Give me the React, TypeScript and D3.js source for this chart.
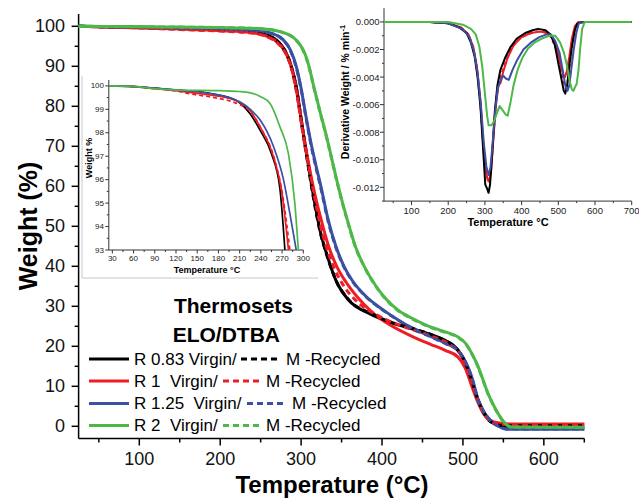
import React from "react";
import * as d3 from "d3";

type P = [number, number];

// ---------- colours ----------
const BLACK = "#000000";
const RED = "#ee1c25";
const BLUE = "#3b4fa3";
const GREEN = "#4cb848";

// ---------- main TGA curves (Temperature °C, Weight %) ----------
const mainBlack: P[] = [[25,100],[100,99.7],[150,99.5],[200,99.2],[240,98.7],[258,97.8],[270,96.5],[280,94],[288,90],[294,85],[300,77],[306,69],[312,61.5],[318,54.5],[324,48.5],[331,43.5],[343,36.5],[359,31.5],[384,28.2],[410,26],[437,24.4],[460,23],[478,21.5],[488,20.3],[496,18.5],[503,16],[511,11.5],[519,6.5],[526,3.5],[532,1.6],[540,0.5],[552,-0.1],[650,-0.2]];
const mainBlackRec: P[] = [[25,100],[100,99.7],[150,99.5],[200,99.2],[240,98.7],[258,97.8],[270,96.4],[280,93.8],[288,89.8],[294,84.6],[300,76.6],[306,68.6],[312,61],[318,54],[324,48.2],[331,43.3],[343,36.5],[359,31.6],[384,28.4],[410,26.1],[437,24.5],[460,23],[478,21.4],[488,20.2],[496,18.4],[503,15.8],[511,11.3],[519,6.3],[526,3.3],[532,1.5],[540,0.6],[552,0.15],[650,0.15]];
const mainRed: P[] = [[25,100],[100,99.6],[150,99.3],[200,98.9],[240,98.4],[258,97.5],[272,95.8],[282,93],[289,89],[296,82],[302,74],[309,66],[317,58],[325,51.5],[334,45],[344,40],[355,36.2],[370,32.2],[388,28.5],[410,25.3],[437,22.5],[460,20.5],[478,19],[494,17.3],[503,14.5],[511,10],[519,5.8],[526,3],[533,1.6],[545,0.8],[560,0.55],[650,0.55]];
const mainRedRec: P[] = [[25,100],[100,99.6],[150,99.2],[200,98.8],[240,98.3],[258,97.4],[272,95.6],[282,92.8],[289,88.8],[296,81.5],[302,73.5],[309,65.5],[316,58],[323,51],[331,45],[341,39.5],[353,35],[370,31],[392,28],[415,25.8],[440,24],[465,22.2],[485,20.3],[497,18],[505,14.5],[512,10.5],[520,5.8],[527,2.8],[534,1.2],[545,0.5],[650,0.4]];
const mainBlue: P[] = [[25,100],[100,99.8],[150,99.6],[200,99.4],[240,99],[262,98.3],[277,96.8],[287,94],[294,90],[300,84.5],[306,77.5],[312,71],[318,65.5],[325,59.5],[333,52],[343,45],[353,40],[363,36.5],[380,32.5],[400,29.3],[420,26.6],[437,24.6],[460,22.5],[478,20.8],[494,19],[503,16.2],[511,12.3],[519,6.5],[526,3.6],[531,2.2],[538,0.8],[544,0],[555,-0.75],[650,-0.75]];
const mainBlueRec: P[] = [[25,100],[100,99.8],[150,99.6],[200,99.4],[240,99],[262,98.3],[277,96.7],[287,93.8],[294,89.7],[300,84.2],[306,77.2],[312,70.6],[318,65],[325,59],[333,51.6],[343,44.7],[353,39.8],[363,36.4],[380,32.4],[400,29.2],[420,26.5],[437,24.5],[460,22.4],[478,20.7],[494,18.9],[503,16.1],[511,12.2],[519,6.4],[526,3.5],[531,2.1],[538,0.7],[544,0],[555,-0.7],[650,-0.7]];
const mainGreen: P[] = [[25,100],[100,99.9],[150,99.8],[200,99.7],[250,99.4],[275,98.6],[290,97.3],[298,95.6],[305,93],[310,89.8],[315,85.5],[323,79],[331,72.8],[338,66.8],[344,61.6],[350,56.8],[358,51],[367,45],[378,40],[392,35.2],[405,31.8],[420,29],[437,27],[458,25],[478,23.6],[494,22.3],[503,20.8],[511,18.2],[519,14.8],[525,11.5],[531,8.2],[538,5.2],[544,3],[552,0.8],[560,-0.2],[650,-0.25]];
const mainGreenRec: P[] = [[25,100],[100,99.9],[150,99.8],[200,99.7],[250,99.4],[275,98.6],[290,97.2],[298,95.5],[305,92.8],[310,89.6],[315,85.3],[323,78.8],[331,72.6],[338,66.6],[344,61.4],[350,56.6],[358,50.8],[367,44.9],[378,39.9],[392,35.1],[405,31.7],[420,28.9],[437,26.9],[458,24.9],[478,23.5],[494,22.2],[503,20.7],[511,18.1],[519,14.7],[525,11.4],[531,8.1],[538,5.1],[544,2.9],[552,0.7],[560,-0.2],[650,-0.25]];

// ---------- left inset (zoom of early weight loss) ----------
const inBlack: P[] = [[25,100],[60,99.98],[90,99.9],[120,99.82],[150,99.76],[182,99.6],[200,99.45],[210,99.28],[225,98.8],[239,98.1],[255,97.1],[267,95.6],[274,93]];
const inRed: P[] = [[25,100],[60,99.97],[90,99.88],[120,99.8],[140,99.72],[170,99.6],[196,99.46],[210,99.3],[220,99.1],[239,98.25],[258,96.97],[270,95.4],[279,93]];
const inRedRec: P[] = [[25,100],[60,99.97],[90,99.88],[120,99.78],[140,99.66],[170,99.52],[196,99.36],[210,99.2],[222,99.0],[240,98.2],[259,96.9],[271,95.3],[281,93]];
const inBlue: P[] = [[25,100],[60,99.97],[90,99.9],[120,99.83],[150,99.75],[173,99.65],[195,99.5],[210,99.32],[225,99.0],[239,98.54],[258,97.4],[272,96],[281,94.56],[290,93]];
const inGreen: P[] = [[25,100],[60,99.98],[90,99.88],[126,99.82],[180,99.8],[210,99.76],[225,99.7],[239,99.55],[253,99.25],[267,98.25],[279,97.1],[288,95],[293,93]];

// ---------- right inset (DTG, %/min) ----------
const dBlack: P[] = [[25,0],[150,0],[200,-0.0001],[230,-0.0004],[250,-0.0008],[262,-0.0015],[272,-0.0025],[280,-0.004],[288,-0.0062],[295,-0.0092],[301,-0.0118],[306,-0.0121],[310,-0.0124],[314,-0.0118],[320,-0.0095],[327,-0.0065],[334,-0.0046],[342,-0.0035],[355,-0.0026],[370,-0.0018],[387,-0.0012],[410,-0.0008],[430,-0.0006],[445,-0.0005],[465,-0.0006],[478,-0.0009],[490,-0.0016],[500,-0.003],[509,-0.0042],[515,-0.005],[519,-0.0052],[524,-0.0046],[530,-0.0032],[537,-0.0018],[545,-0.0006],[552,-0.0001],[570,0],[700,0]];
const dRed: P[] = [[25,0],[150,0],[200,-0.0001],[235,-0.0004],[255,-0.0009],[268,-0.0018],[278,-0.0032],[287,-0.0055],[295,-0.0085],[302,-0.0108],[308,-0.0115],[312,-0.0116],[317,-0.0108],[323,-0.0085],[330,-0.006],[337,-0.0046],[343,-0.0044],[350,-0.0036],[362,-0.0026],[378,-0.0017],[400,-0.0011],[425,-0.0008],[450,-0.0007],[470,-0.0008],[485,-0.0012],[497,-0.002],[507,-0.0032],[514,-0.0039],[518,-0.004],[523,-0.0036],[530,-0.0025],[537,-0.0012],[545,-0.0003],[555,0],[700,0]];
const dRedRec: P[] = [[25,0],[150,0],[200,-0.0001],[235,-0.0004],[255,-0.0009],[268,-0.0018],[278,-0.0033],[287,-0.0057],[295,-0.0088],[302,-0.011],[308,-0.0114],[313,-0.0112],[318,-0.0102],[324,-0.008],[331,-0.0056],[338,-0.0042],[345,-0.0038],[355,-0.003],[370,-0.002],[390,-0.0013],[415,-0.0009],[440,-0.0007],[460,-0.0007],[478,-0.001],[492,-0.0018],[504,-0.0031],[513,-0.0042],[520,-0.0048],[525,-0.0045],[531,-0.0032],[538,-0.0016],[546,-0.0004],[556,0],[700,0]];
const dBlue: P[] = [[25,0],[150,0],[200,-0.0001],[238,-0.0005],[258,-0.0011],[270,-0.0021],[280,-0.0037],[289,-0.006],[297,-0.0088],[304,-0.0105],[310,-0.0111],[315,-0.0106],[321,-0.0088],[328,-0.0065],[335,-0.0048],[343,-0.0042],[350,-0.0039],[357,-0.0041],[365,-0.0042],[375,-0.0035],[387,-0.0028],[405,-0.002],[425,-0.0015],[448,-0.0011],[468,-0.0009],[480,-0.0009],[492,-0.0014],[503,-0.0022],[512,-0.0035],[519,-0.0046],[525,-0.005],[530,-0.0046],[536,-0.0033],[542,-0.002],[549,-0.0008],[556,-0.0001],[570,0],[700,0]];
const dGreen: P[] = [[25,0],[200,0],[240,-0.0002],[262,-0.0005],[275,-0.0009],[285,-0.0018],[293,-0.0033],[300,-0.0052],[306,-0.0068],[310,-0.0075],[318,-0.0075],[325,-0.0072],[333,-0.0066],[340,-0.0061],[348,-0.0064],[356,-0.0067],[362,-0.0068],[370,-0.0058],[378,-0.0046],[390,-0.0034],[402,-0.0026],[418,-0.0019],[435,-0.0015],[455,-0.0012],[475,-0.001],[492,-0.001],[505,-0.0015],[515,-0.0022],[524,-0.0032],[531,-0.0043],[537,-0.0049],[541,-0.005],[546,-0.0047],[550,-0.0045],[555,-0.0035],[560,-0.0018],[565,-0.0005],[572,0],[700,0]];

// ---------- ticks ----------
const mainXTicks = [100, 200, 300, 400, 500, 600];
const mainXMinor = [50, 150, 250, 350, 450, 550, 650];
const mainYTicks = [0, 10, 20, 30, 40, 50, 60, 70, 80, 90, 100];
const mainYMinor = [5, 15, 25, 35, 45, 55, 65, 75, 85, 95];
const inXTicks = [30, 60, 90, 120, 150, 180, 210, 240, 270, 300];
const inXMinor = [45, 75, 105, 135, 165, 195, 225, 255, 285];
const inYTicks = [93, 94, 95, 96, 97, 98, 99, 100];
const inYMinor = [93.5, 94.5, 95.5, 96.5, 97.5, 98.5, 99.5];
const dXTicks = [100, 200, 300, 400, 500, 600, 700];
const dXMinor = [50, 150, 250, 350, 450, 550, 650];
const dYTicks = [0, -0.002, -0.004, -0.006, -0.008, -0.01, -0.012];
const dYMinor = [-0.001, -0.003, -0.005, -0.007, -0.009, -0.011, -0.013];

// ---------- legend ----------
const legendLabels = ["R 0.83 Virgin/", "R 1  Virgin/", "R 1.25  Virgin/", "R 2  Virgin/"];
const legendColors = [BLACK, RED, BLUE, GREEN];
const recycledLabel = "M -Recycled";

const FONT = "Arial, 'Liberation Sans', Helvetica, sans-serif";

export default function App() {
  const W = 639, H = 502;

  // main scales
  const x = d3.scaleLinear().domain([25, 650]).range([78.6, 584.3]);
  const y = d3.scaleLinear().domain([0, 100]).range([426.3, 26.3]);
  const yTop = 14, yBot = 438.5;
  const line = d3.line<P>().x(d => x(d[0])).y(d => y(d[1])).curve(d3.curveMonotoneX);

  // left inset
  const ix = d3.scaleLinear().domain([25, 300]).range([108.8, 303.3]);
  const iy = d3.scaleLinear().domain([93, 100.25]).range([250, 80]);
  const iline = d3.line<P>().x(d => ix(d[0])).y(d => iy(d[1])).curve(d3.curveMonotoneX);

  // right inset
  const dx = d3.scaleLinear().domain([25, 700]).range([384, 631.7]);
  const dy = d3.scaleLinear().domain([-0.013, 0.001]).range([201.1, 8.2]);
  const dline = d3.line<P>().x(d => dx(d[0])).y(d => dy(d[1])).curve(d3.curveLinear);

  const mainSeries = [
    { d: mainBlack, c: BLACK, dash: undefined },
    { d: mainRed, c: RED, dash: undefined },
    { d: mainBlue, c: BLUE, dash: undefined },
    { d: mainBlackRec, c: BLACK, dash: "6,4" },
    { d: mainRedRec, c: RED, dash: "6,4" },
    { d: mainBlueRec, c: BLUE, dash: "6,4" },
    { d: mainGreen, c: GREEN, dash: undefined },
    { d: mainGreenRec, c: GREEN, dash: "6,4" },
  ];
  const inSeries = [
    { d: inBlack, c: BLACK, dash: undefined },
    { d: inRed, c: RED, dash: undefined },
    { d: inRedRec, c: RED, dash: "4,3" },
    { d: inBlue, c: BLUE, dash: undefined },
    { d: inGreen, c: GREEN, dash: undefined },
  ];
  const dSeries = [
    { d: dRed, c: RED, dash: undefined },
    { d: dRedRec, c: RED, dash: "4,3" },
    { d: dBlack, c: BLACK, dash: undefined },
    { d: dBlue, c: BLUE, dash: undefined },
    { d: dGreen, c: GREEN, dash: undefined },
  ];

  const legendRowsY = [359, 381, 403.5, 425.5];
  const legendDash = [[241, 281, 286], [223, 261, 266], [247, 285, 292], [223, 261, 266]];

  return (
    <svg width={W} height={H} viewBox={`0 0 ${W} ${H}`}
      style={{ position: "absolute", left: 0, top: 0, background: "#fff" }}
      fontFamily={FONT}>
      <rect x={0} y={0} width={W} height={H} fill="#fff" />

      {/* ---------- main axes ---------- */}
      <g stroke="#000" strokeWidth={1.5} fill="none">
        <line x1={x(25)} x2={x(25)} y1={yTop} y2={yBot} />
        <line x1={x(25)} x2={x(650)} y1={yBot} y2={yBot} />
        {mainYTicks.map(t => <line key={"yt" + t} x1={x(25) - 7} x2={x(25)} y1={y(t)} y2={y(t)} />)}
        {mainYMinor.map(t => <line key={"ym" + t} x1={x(25) - 4} x2={x(25)} y1={y(t)} y2={y(t)} />)}
        {mainXTicks.map(t => <line key={"xt" + t} x1={x(t)} x2={x(t)} y1={yBot} y2={yBot + 7} />)}
        {mainXMinor.map(t => <line key={"xm" + t} x1={x(t)} x2={x(t)} y1={yBot} y2={yBot + 4} />)}
      </g>
      <g fontSize={18} fill="#111">
        {mainYTicks.map(t => (
          <text key={"yl" + t} x={65} y={y(t)} textAnchor="end" dominantBaseline="central">{t}</text>
        ))}
        {mainXTicks.map(t => (
          <text key={"xl" + t} x={x(t)} y={458.5} textAnchor="middle" dominantBaseline="central">{t}</text>
        ))}
      </g>
      <text x={332} y={493} textAnchor="middle" fontSize={24} fontWeight="bold">Temperature (°C)</text>
      <text transform="translate(37,226) rotate(-90)" textAnchor="middle" fontSize={25} fontWeight="bold">Weight (%)</text>

      {/* ---------- main curves ---------- */}
      <g fill="none" strokeLinejoin="round">
        {mainSeries.map((s, i) => (
          <path key={"ms" + i} d={line(s.d) || ""} stroke={s.c} strokeWidth={3} strokeDasharray={s.dash} />
        ))}
      </g>

      {/* ---------- left inset ---------- */}
      <g stroke="#c8c8c8" strokeWidth={1}>
        <line x1={82} x2={82} y1={76} y2={278} />
        <line x1={82} x2={318} y1={278} y2={278} />
      </g>
      <defs>
        <clipPath id="inclip"><rect x={ix(25)} y={iy(100.25)} width={ix(300) - ix(25)} height={iy(93) - iy(100.25)} /></clipPath>
        <clipPath id="dclip"><rect x={dx(25)} y={dy(0.001)} width={dx(700) - dx(25)} height={dy(-0.013) - dy(0.001)} /></clipPath>
      </defs>
      <g stroke="#333" strokeWidth={1} fill="none">
        <line x1={ix(25)} x2={ix(25)} y1={iy(100.25)} y2={iy(93)} />
        <line x1={ix(25)} x2={ix(300)} y1={iy(93)} y2={iy(93)} />
        {inYTicks.map(t => <line key={"iyt" + t} x1={ix(25) - 3.5} x2={ix(25)} y1={iy(t)} y2={iy(t)} />)}
        {inYMinor.map(t => <line key={"iym" + t} x1={ix(25) - 2} x2={ix(25)} y1={iy(t)} y2={iy(t)} />)}
        {inXTicks.map(t => <line key={"ixt" + t} x1={ix(t)} x2={ix(t)} y1={iy(93)} y2={iy(93) + 3.5} />)}
        {inXMinor.map(t => <line key={"ixm" + t} x1={ix(t)} x2={ix(t)} y1={iy(93)} y2={iy(93) + 2} />)}
      </g>
      <g fontSize={8} fill="#222">
        {inYTicks.map(t => (
          <text key={"iyl" + t} x={104} y={iy(t)} textAnchor="end" dominantBaseline="central">{t}</text>
        ))}
        {inXTicks.map(t => (
          <text key={"ixl" + t} x={ix(t)} y={258.5} textAnchor="middle" dominantBaseline="central">{t}</text>
        ))}
      </g>
      <text x={207} y={272.5} textAnchor="middle" fontSize={9} fontWeight="bold">Temperature °C</text>
      <text transform="translate(91.5,158) rotate(-90)" textAnchor="middle" fontSize={9} fontWeight="bold">Weight %</text>
      <g fill="none" clipPath="url(#inclip)" strokeLinejoin="round">
        {inSeries.map((s, i) => (
          <path key={"is" + i} d={iline(s.d) || ""} stroke={s.c} strokeWidth={1.7} strokeDasharray={s.dash} />
        ))}
      </g>

      {/* ---------- right inset (DTG) ---------- */}
      <g stroke="#333" strokeWidth={1} fill="none">
        <line x1={dx(25)} x2={dx(25)} y1={dy(0.001)} y2={dy(-0.013)} />
        <line x1={dx(25)} x2={dx(700)} y1={dy(-0.013)} y2={dy(-0.013)} />
        {dYTicks.map(t => <line key={"dyt" + t} x1={dx(25) - 4} x2={dx(25)} y1={dy(t)} y2={dy(t)} />)}
        {dYMinor.map(t => <line key={"dym" + t} x1={dx(25) - 2} x2={dx(25)} y1={dy(t)} y2={dy(t)} />)}
        {dXTicks.map(t => <line key={"dxt" + t} x1={dx(t)} x2={dx(t)} y1={dy(-0.013)} y2={dy(-0.013) + 4} />)}
        {dXMinor.map(t => <line key={"dxm" + t} x1={dx(t)} x2={dx(t)} y1={dy(-0.013)} y2={dy(-0.013) + 2} />)}
      </g>
      <g fontSize={9.5} fill="#222">
        {dYTicks.map(t => (
          <text key={"dyl" + t} x={379.5} y={dy(t)} textAnchor="end" dominantBaseline="central">{t === 0 ? "0.000" : "-" + Math.abs(t).toFixed(3)}</text>
        ))}
        {dXTicks.map(t => (
          <text key={"dxl" + t} x={dx(t)} y={210} textAnchor="middle" dominantBaseline="central">{t}</text>
        ))}
      </g>
      <text x={508} y={226} textAnchor="middle" fontSize={11} fontWeight="bold">Temperature °C</text>
      <text transform="translate(349,92) rotate(-90)" textAnchor="middle" fontSize={10.5} fontWeight="bold">
        Derivative Weight / % min<tspan dy={-4} fontSize={7.5}>-1</tspan>
      </text>
      <g fill="none" clipPath="url(#dclip)" strokeLinejoin="round">
        {dSeries.map((s, i) => (
          <path key={"ds" + i} d={dline(s.d) || ""} stroke={s.c} strokeWidth={2} strokeDasharray={s.dash} />
        ))}
      </g>

      {/* ---------- legend ---------- */}
      <text x={293} y={313} textAnchor="end" fontSize={21} fontWeight="bold">Thermosets</text>
      <text x={280} y={342} textAnchor="end" fontSize={21} fontWeight="bold">ELO/DTBA</text>
      {legendLabels.map((lab, i) => {
        const yy = legendRowsY[i];
        const [d0, d1, tx] = legendDash[i];
        return (
          <g key={"lg" + i}>
            <line x1={89} x2={129} y1={yy} y2={yy} stroke={legendColors[i]} strokeWidth={3} />
            <text x={134} y={yy} dominantBaseline="central" fontSize={17} style={{ whiteSpace: "pre" }}>{lab}</text>
            <line x1={d0} x2={d1} y1={yy} y2={yy} stroke={legendColors[i]} strokeWidth={3} strokeDasharray="6,4" />
            <text x={tx} y={yy} dominantBaseline="central" fontSize={17}>{recycledLabel}</text>
          </g>
        );
      })}
    </svg>
  );
}
